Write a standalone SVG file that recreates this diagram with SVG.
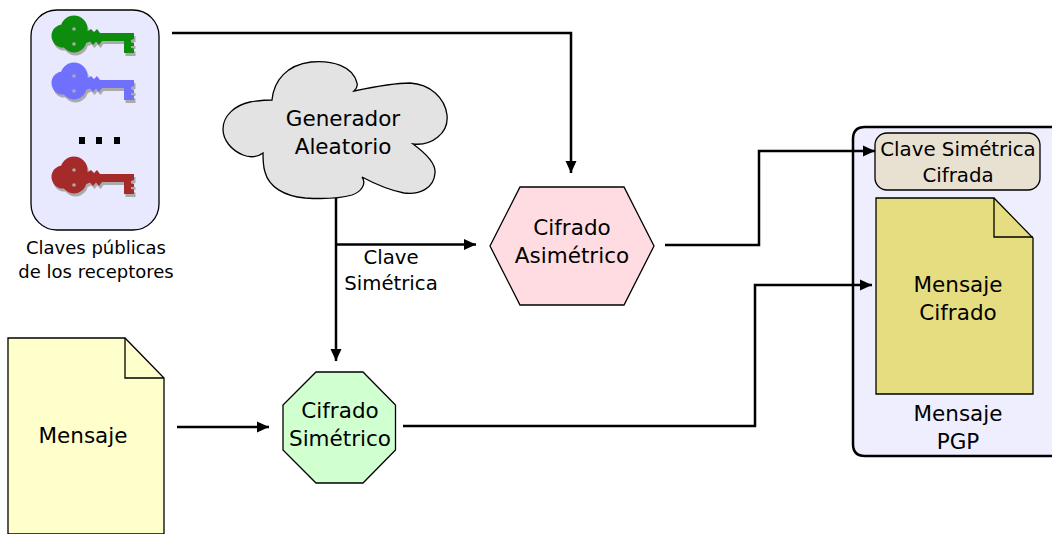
<svg xmlns="http://www.w3.org/2000/svg" xmlns:xlink="http://www.w3.org/1999/xlink" width="1052" height="534" viewBox="0 0 1052 534">
<style>
text{font-family:"DejaVu Sans",sans-serif;fill:#000;text-anchor:middle}
.l{font-size:21.500px}
.s{font-size:18px}
.m{font-size:19.700px}
.n{font-size:19.800px}
.c{fill:none;stroke:#000;stroke-width:2.500}
.o{stroke:#000;stroke-width:1.300}
</style>
<defs>
<marker id="a" markerUnits="userSpaceOnUse" markerWidth="14" markerHeight="12" refX="12" refY="6" orient="auto"><path d="M0 0.500L12 6L0 11.500z" fill="#000"/></marker>
<g id="k">
<circle cx="74" cy="29" r="13.500"/><circle cx="63" cy="36" r="11.500"/><circle cx="74" cy="40" r="12.500"/>
<path d="M84 30L88 31L91 29L94 32L97 29L100 33H134V39L131 40V42.500L134 43V46H131V48L134 48.500V53H124V41H102L99 45L96 41.500L93 45L90 41.500L84 44Z"/>
</g>
<g id="key"><use xlink:href="#k" fill="#aaa" transform="translate(1.500,3)"/><use xlink:href="#k"/><circle cx="74" cy="29" r="1.800" fill="#aaa"/><circle cx="74" cy="44" r="1.800" fill="#aaa"/></g>
</defs>
<g id="claves">
<rect x="31" y="10" width="128" height="220" rx="26" fill="#e8e8ff" stroke="#000" stroke-width="1.300"/>
<use xlink:href="#key" fill="#0e8c0e"/>
<use xlink:href="#key" y="47" fill="#7070ff"/>
<use xlink:href="#key" y="141" fill="#a52a2a"/>
<rect x="79" y="137" width="6" height="7"/><rect x="96" y="137" width="6" height="7"/><rect x="114" y="137" width="6" height="7"/>
<text class="s" x="96" y="254">Claves públicas</text>
<text class="s" x="96" y="278">de los receptores</text>
</g>
<g id="generador">
<path class="o" fill="#e3e3e3" d="M272 100C274 80 287 65 311 62C332 60 353 66 357 83C358 86 356 89 354 91C373 87 392 83 410 83C430 84 445 98 447 115C449 133 432 146 413 144C424 152 436 163 435 173C434 188 420 195 404 193C389 190 375 184 362 177C367 184 361 192 352 195C338 199 321 199 305 198C284 196 269 187 265 172C263 166 263 160 263 153C258 157 250 158 243 155C231 150 223 140 223 129C223 115 236 105 250 102C257 101 265 100 272 100Z"/>
<text class="l" x="343" y="126">Generador</text>
<text class="l" x="343" y="154">Aleatorio</text>
</g>
<g id="clave-simetrica">
<text class="m" x="391" y="264">Clave</text>
<text class="m" x="391" y="290">Simétrica</text>
</g>
<g id="asimetrico">
<polygon class="o" fill="#ffdce2" points="490,246 520,187 624,187 654,246 624,305 520,305"/>
<text class="l" x="572" y="235">Cifrado</text>
<text class="l" x="572" y="263">Asimétrico</text>
</g>
<g id="mensaje">
<path class="o" fill="#ffffcc" d="M8 338H125L164 378V534H8Z"/>
<path class="o" fill="none" d="M125 338V378H164"/>
<text class="l" x="83" y="443">Mensaje</text>
</g>
<g id="simetrico">
<polygon class="o" fill="#d0ffd0" points="316,372 363,372 395.500,405 395.500,450 363,483 316,483 283,450 283,405"/>
<text class="l" x="340" y="418">Cifrado</text>
<text class="l" x="340" y="446">Simétrico</text>
</g>
<g id="pgp">
<path fill="#eeeeff" stroke="#000" stroke-width="2.500" d="M1053 127H865Q853 127 853 139V444Q853 456 865 456H1053"/>
<text class="l" x="958" y="421">Mensaje</text>
<text class="l" x="958" y="449">PGP</text>
</g>
<g id="clave-cifrada">
<rect class="o" x="875" y="133" width="165" height="57" rx="12" fill="#e8e0d0"/>
<text class="n" x="958" y="156">Clave Simétrica</text>
<text class="n" x="958" y="182">Cifrada</text>
</g>
<g id="mensaje-cifrado">
<path class="o" fill="#e6dd80" d="M876 198H994L1033 238V394H876Z"/>
<path class="o" fill="none" d="M994 198V237H1033"/>
<text class="l" x="958" y="292">Mensaje</text>
<text class="l" x="958" y="320">Cifrado</text>
</g>
<g id="connectors">
<path class="c" d="M172 33H571V173" marker-end="url(#a)"/>
<path class="c" d="M336 198V361" marker-end="url(#a)"/>
<path class="c" d="M336 244.500H476" marker-end="url(#a)"/>
<path class="c" d="M177 427H269" marker-end="url(#a)"/>
<path class="c" d="M665 245H759V151H875" marker-end="url(#a)"/>
<path class="c" d="M403 426H755V285H872" marker-end="url(#a)"/>
</g>
</svg>
